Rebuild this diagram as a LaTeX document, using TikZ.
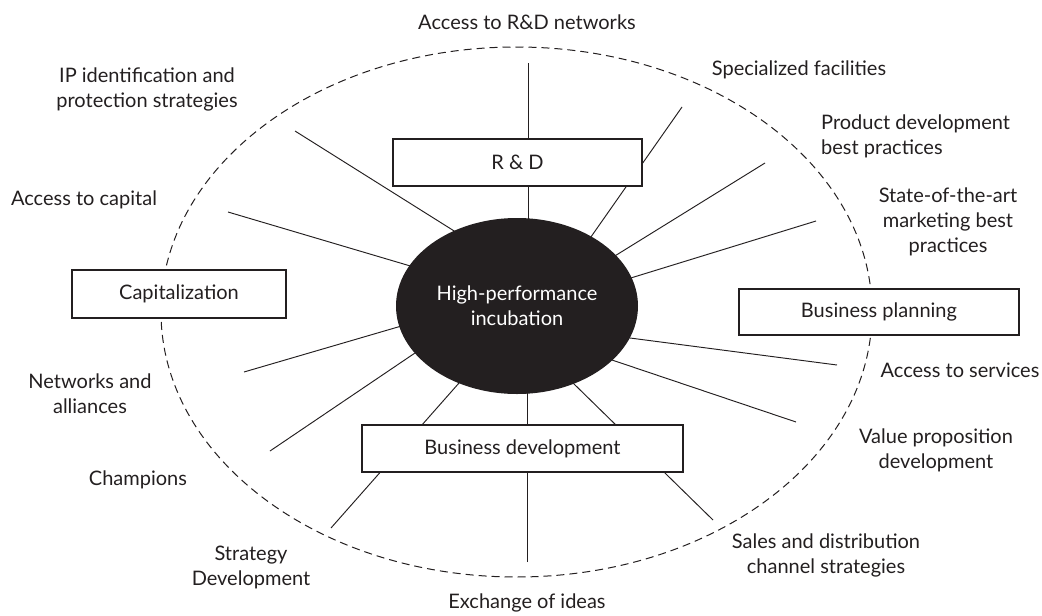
\documentclass[tikz,border=0pt]{standalone}
\usepackage{fontspec}
\setmainfont{Lato}
\usetikzlibrary{shapes.geometric}
\pgfdeclarelayer{background}
\pgfsetlayers{background,main}
\definecolor{ink}{HTML}{231F20}
\begin{document}
\begin{tikzpicture}[x=1pt,y=-1pt,
  lbl/.style={font=\fontsize{20}{25}\selectfont, text=ink, align=center, inner sep=0pt},
  box/.style={draw=ink, line width=1.1pt, fill=white, inner sep=0pt, font=\fontsize{20}{25}\selectfont, text=ink},
  spoke/.style={draw=ink, line width=0.95pt, shorten >=-4pt},
  ring/.style={draw=ink, line width=1pt, dash pattern=on 8pt off 5pt}]
\useasboundingbox (0,0) rectangle (1042,616);

% central node and boxes
\node[ellipse, fill=ink, minimum width=242pt, minimum height=176pt, inner sep=0pt,
      text=white, align=center, font=\fontsize{20}{25}\selectfont] (hp) at (517,306)
      {High-performance\\incubation};
\node[box, minimum width=249pt, minimum height=47pt] (rd) at (517.5,162.5) {R \& D};
\node[box, minimum width=214pt, minimum height=48pt] (cap) at (179,294) {Capitalization};
\node[box, minimum width=280pt, minimum height=46pt] (bp) at (879,312) {Business planning};
\node[box, minimum width=321pt, minimum height=47pt] (bd) at (522.5,448.5) {Business development};

% labels
\node[lbl] (lrd) at (527,22) {Access to R\&D networks};
\node[lbl] (lspec) at (799,70) {Specialized facilities};
\node[lbl, align=left, anchor=west] (lprod) at (821,136) {Product development\\best practices};
\node[lbl] (lstate) at (948,222) {State-of-the-art\\marketing best\\practices};
\node[lbl] (lserv) at (960,370) {Access to services};
\node[lbl] (lval) at (936,450) {Value proposition\\development};
\node[lbl] (lsales) at (826,555) {Sales and distribution\\channel strategies};
\node[lbl] (lexch) at (527,603) {Exchange of ideas};
\node[lbl] (lstrat) at (251,567) {Strategy\\Development};
\node[lbl] (lchamp) at (138,480) {Champions};
\node[lbl] (lnet) at (90,394) {Networks and\\alliances};
\node[lbl] (lcapl) at (84,200) {Access to capital};
\node[lbl] (lip) at (147,89) {IP identification and\\protection strategies};

% spoke end points
\coordinate (o1) at (528,63);   \coordinate (i1) at (528,216);
\coordinate (o2) at (682,107);  \coordinate (i2) at (593,234);
\coordinate (o3) at (765,163);  \coordinate (i3) at (618,254);
\coordinate (o4) at (816,221);  \coordinate (i4) at (634,277);
\coordinate (o5) at (837,365);  \coordinate (i5) at (630,338);
\coordinate (o6) at (796,422);  \coordinate (i6) at (612,360);
\coordinate (o7) at (713,520);  \coordinate (i7) at (573,383);
\coordinate (o8) at (331,528);  \coordinate (i8) at (459,383);
\coordinate (o9) at (270,451);  \coordinate (i9) at (415,353);
\coordinate (o10) at (244,372); \coordinate (i10) at (398,327);
\coordinate (o11) at (228,212); \coordinate (i11) at (407,265);
\coordinate (o12) at (295,131); \coordinate (i12) at (451,229);
\coordinate (o13) at (527,562); \coordinate (i13) at (527,392);

\begin{pgfonlayer}{background}
  \draw[ring] (516.5,312) ellipse [x radius=355.5, y radius=265];
  \foreach \k in {1,...,13} { \draw[spoke] (o\k) -- (i\k); }
\end{pgfonlayer}
\end{tikzpicture}
\end{document}
